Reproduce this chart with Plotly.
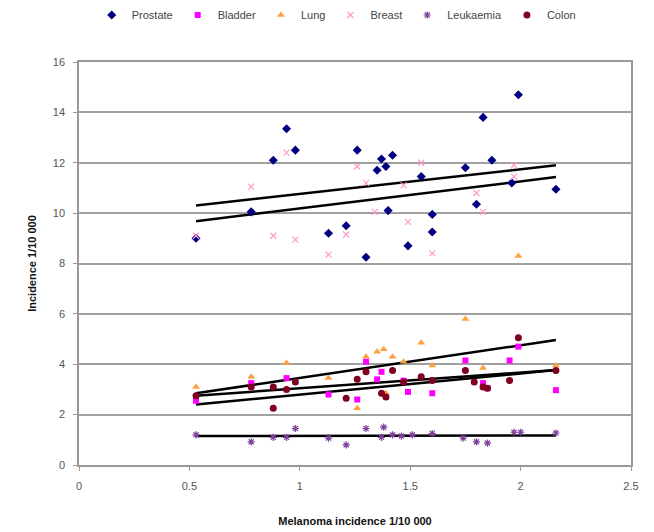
import plotly.graph_objects as go

# ---- data ----
prostate_x = [0.53, 0.78, 0.88, 0.94, 0.98, 1.13, 1.21, 1.26, 1.30, 1.35, 1.37, 1.39, 1.40, 1.42, 1.49, 1.55, 1.60, 1.60, 1.75, 1.80, 1.83, 1.87, 1.96, 1.99, 2.16]
prostate_y = [9.0, 10.05, 12.1, 13.35, 12.5, 9.2, 9.5, 12.5, 8.25, 11.7, 12.15, 11.85, 10.1, 12.3, 8.7, 11.45, 9.95, 9.25, 11.8, 10.35, 13.8, 12.1, 11.2, 14.7, 10.95]

bladder_x = [0.53, 0.78, 0.94, 1.13, 1.26, 1.30, 1.35, 1.37, 1.47, 1.49, 1.60, 1.75, 1.83, 1.85, 1.95, 1.99, 2.16]
bladder_y = [2.55, 3.25, 3.45, 2.8, 2.6, 4.1, 3.4, 3.7, 3.35, 2.9, 2.85, 4.15, 3.25, 3.05, 4.15, 4.7, 2.97]

lung_x = [0.53, 0.78, 0.94, 1.13, 1.26, 1.30, 1.35, 1.38, 1.39, 1.42, 1.47, 1.55, 1.60, 1.75, 1.83, 1.99, 2.16]
lung_y = [3.1, 3.5, 4.05, 3.45, 2.25, 4.3, 4.5, 4.6, 2.85, 4.3, 4.1, 4.85, 3.95, 5.8, 3.85, 8.3, 3.95]

breast_x = [0.53, 0.78, 0.88, 0.94, 0.98, 1.13, 1.21, 1.26, 1.30, 1.34, 1.47, 1.49, 1.55, 1.60, 1.80, 1.83, 1.97, 1.97]
breast_y = [9.1, 11.05, 9.1, 12.4, 8.95, 8.35, 9.15, 11.85, 11.2, 10.05, 11.1, 9.65, 12.0, 8.4, 10.8, 10.05, 11.9, 11.45]

leuk_x = [0.53, 0.78, 0.88, 0.94, 0.98, 1.13, 1.21, 1.30, 1.37, 1.38, 1.42, 1.46, 1.51, 1.60, 1.74, 1.80, 1.85, 1.97, 2.00, 2.16]
leuk_y = [1.2, 0.92, 1.1, 1.1, 1.45, 1.07, 0.8, 1.45, 1.1, 1.5, 1.2, 1.15, 1.2, 1.25, 1.07, 0.92, 0.87, 1.3, 1.3, 1.27]

colon_x = [0.53, 0.78, 0.88, 0.88, 0.94, 0.98, 1.21, 1.26, 1.30, 1.37, 1.39, 1.42, 1.47, 1.55, 1.60, 1.75, 1.79, 1.83, 1.85, 1.95, 1.99, 2.16]
colon_y = [2.75, 3.1, 2.25, 3.1, 3.0, 3.3, 2.65, 3.4, 3.7, 2.85, 2.7, 3.75, 3.3, 3.5, 3.35, 3.75, 3.3, 3.1, 3.05, 3.35, 5.05, 3.75]

# linear trend lines: value at start and end of the x span
trend_x = [0.53, 2.16]
trend_prostate = [10.3, 11.9]
trend_breast = [9.68, 11.43]
trend_lung = [2.85, 4.96]
trend_bladder = [2.75, 3.77]
trend_colon = [2.4, 3.77]
trend_leuk = [1.15, 1.17]

x_ticks = [0, 0.5, 1, 1.5, 2, 2.5]
x_tick_labels = ["0", "0.5", "1", "1.5", "2", "2.5"]
y_ticks = [0, 2, 4, 6, 8, 10, 12, 14, 16]

fig = go.Figure()

series = [
    ("Prostate", prostate_x, prostate_y, "diamond", "#000080", 7, None),
    ("Bladder", bladder_x, bladder_y, "square", "#FF00FF", 6, None),
    ("Lung", lung_x, lung_y, "triangle-up", "#FFA040", 7, None),
    ("Breast", breast_x, breast_y, "x-thin", "#FF99CC", 6, "#FF99CC"),
    ("Leukaemia", leuk_x, leuk_y, "asterisk", "#8040A0", 6, "#8040A0"),
    ("Colon", colon_x, colon_y, "circle", "#800020", 7, None),
]

trends = [trend_prostate, trend_breast, trend_lung, trend_bladder, trend_colon, trend_leuk]
for ty in trends:
    fig.add_trace(go.Scatter(x=trend_x, y=ty, mode="lines",
                             line=dict(color="black", width=2.5),
                             showlegend=False, hoverinfo="skip"))

for name, xs, ys, sym, col, size, lc in series:
    marker = dict(symbol=sym, color=col, size=size)
    if lc is not None:
        marker["line"] = dict(color=lc, width=1.2)
    fig.add_trace(go.Scatter(x=xs, y=ys, mode="markers", name=name, marker=marker))

# page body has an 8px default margin, so the figure is sized to fit the window
fig.update_layout(
    width=646, height=524,
    margin=dict(l=71, r=23, t=54, b=67),
    paper_bgcolor="white", plot_bgcolor="white",
    font=dict(family="Liberation Sans, Arial, sans-serif", size=11, color="#333333"),
    legend=dict(orientation="h", x=0.466, xanchor="center", yref="container",
                y=0.9866, yanchor="middle", font=dict(size=11, color="#444444"),
                itemwidth=30, tracegroupgap=0, traceorder="normal"),
    showlegend=True,
)

fig.update_xaxes(range=[0, 2.5], tickvals=x_ticks, ticktext=x_tick_labels,
                 automargin=False,
                 showgrid=False, zeroline=False, showline=True, linecolor="#999999",
                 linewidth=1.5, mirror=True, ticks="outside", ticklen=4,
                 tickcolor="#999999", tickfont=dict(size=11, color="#555555"),
                 ticklabelstandoff=6,
                 title=dict(text="<b>Melanoma incidence 1/10 000</b>",
                            font=dict(size=11, color="#111111"), standoff=26))
fig.update_yaxes(range=[0, 16], tickvals=y_ticks, automargin=False,
                 showgrid=True, gridcolor="#A0A0A0", gridwidth=2, zeroline=False,
                 showline=True, linecolor="#999999", linewidth=1.5, mirror=True,
                 ticks="outside", ticklen=4, tickcolor="#999999",
                 tickfont=dict(size=11, color="#555555"),
                 ticklabelstandoff=6,
                 title=dict(text="<b>Incidence 1/10 000</b>",
                            font=dict(size=11, color="#111111"), standoff=14))

fig.write_html("out.html")
